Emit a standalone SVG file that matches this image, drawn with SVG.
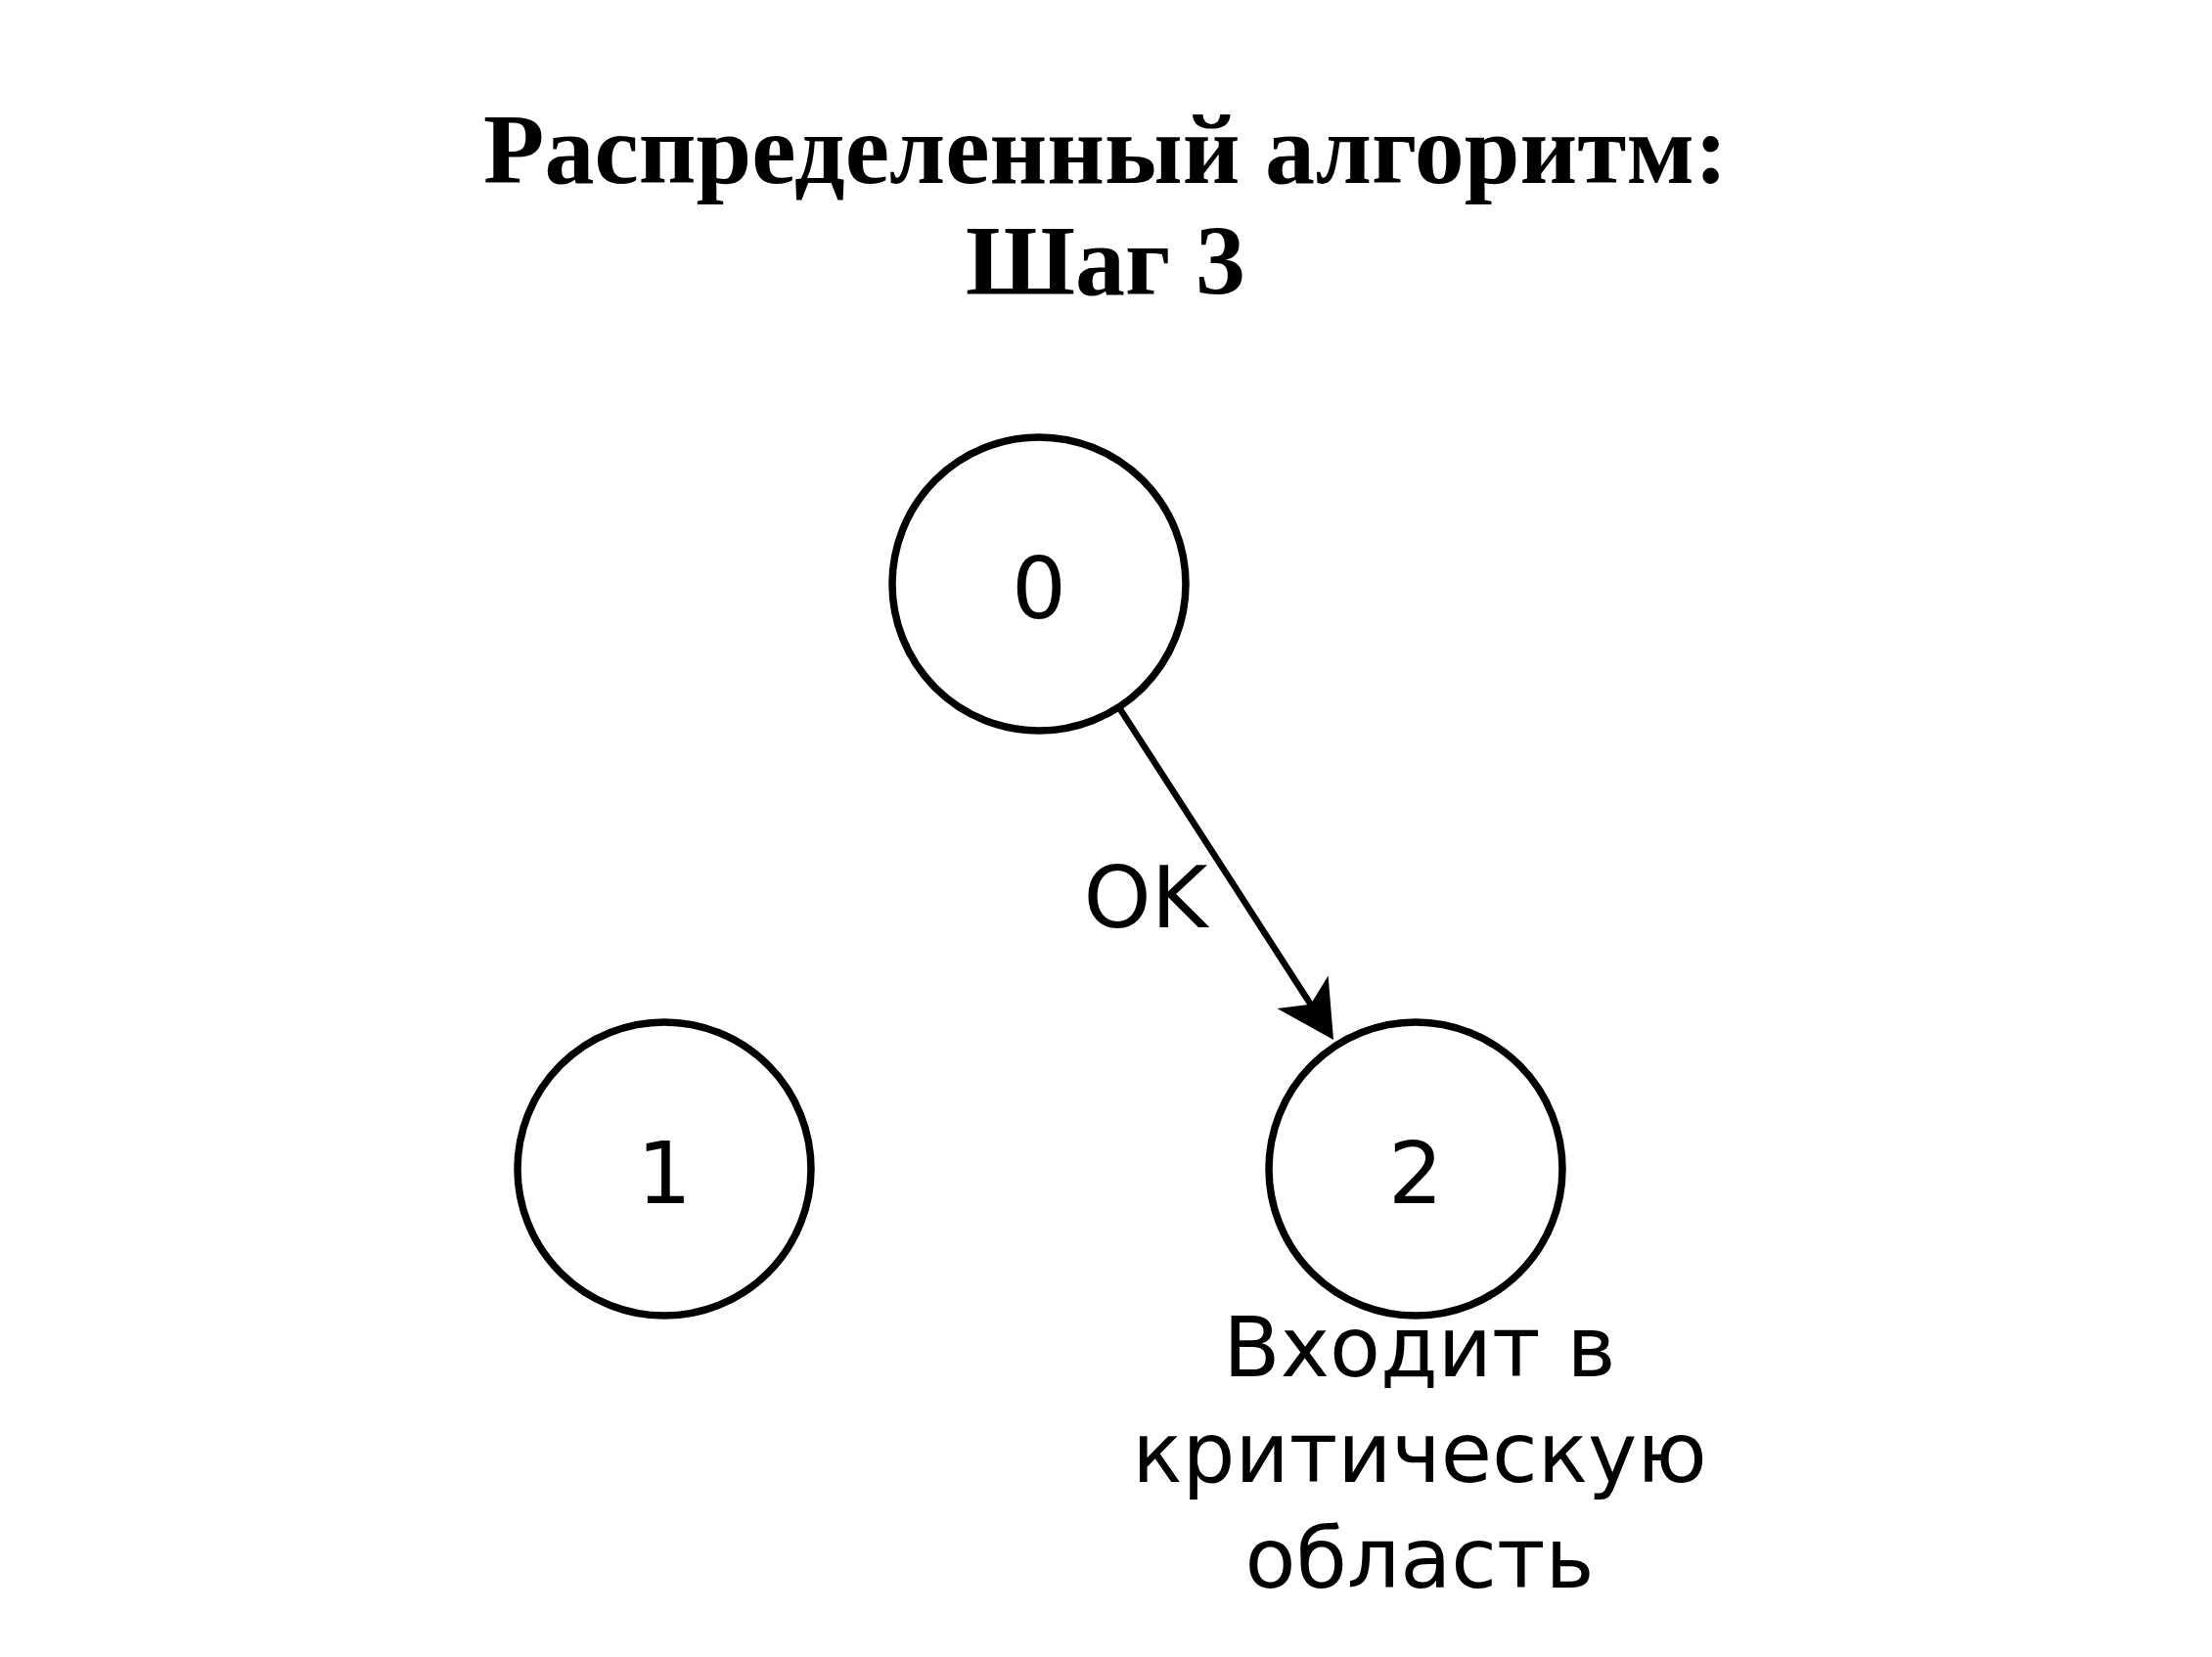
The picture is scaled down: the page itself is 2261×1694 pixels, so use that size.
<svg xmlns="http://www.w3.org/2000/svg" width="2261" height="1694" viewBox="0 0 2261 1694">
<style>
.title{font-family:"Liberation Serif","Times New Roman",serif;font-weight:bold;font-size:102px;fill:#000;text-anchor:middle}
.node{fill:#fff;stroke:#000;stroke-width:7.5}
.lbl{font-family:"DejaVu Sans",Verdana,sans-serif;font-size:88px;fill:#000;text-anchor:middle}
.note{font-family:"DejaVu Sans",Verdana,sans-serif;font-size:85px;fill:#000;text-anchor:middle}
.edge{stroke:#000;stroke-width:6.5;fill:none}
</style>
<defs>
<marker id="arr" markerUnits="userSpaceOnUse" viewBox="-16 -32 60 64" markerWidth="60" markerHeight="64" refX="0" refY="0" orient="auto">
<path d="M43,0 L-15,-31 L0,0 L-15,31 Z" fill="#000"/>
</marker>
</defs>
<rect width="2261" height="1694" fill="#fff"/>
<g id="title">
<text class="title" x="1130" y="187">Распределенный алгоритм:</text>
<text class="title" x="1130" y="301">Шаг 3</text>
</g>
<g id="connectors">
<line class="edge" x1="1145" y1="725" x2="1339.7" y2="1026.8" marker-end="url(#arr)"/>
<text class="lbl" x="1171" y="948">OK</text>
</g>
<g id="node0">
<circle class="node" cx="1062" cy="597" r="150"/>
<text class="lbl" x="1062" y="632">0</text>
</g>
<g id="node1">
<circle class="node" cx="679" cy="1195" r="150"/>
<text class="lbl" x="679" y="1230">1</text>
</g>
<g id="node2">
<circle class="node" cx="1447" cy="1195" r="150"/>
<text class="lbl" x="1447" y="1230">2</text>
<text class="note" x="1451" y="1407">Входит в</text>
<text class="note" x="1451" y="1515">критическую</text>
<text class="note" x="1451" y="1623">область</text>
</g>
</svg>
